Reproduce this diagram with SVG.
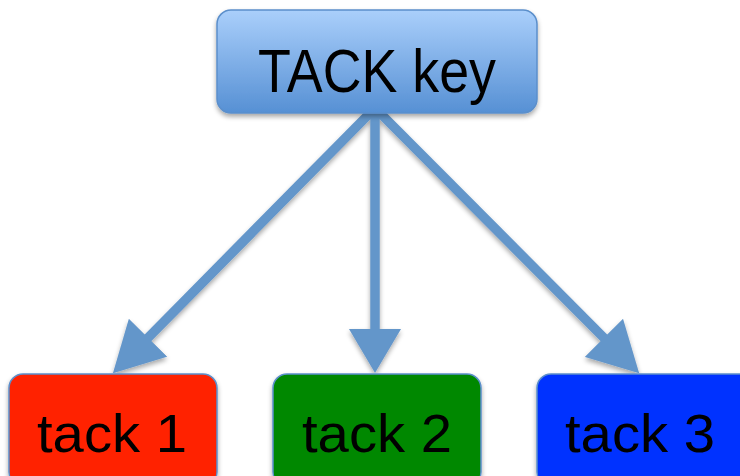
<svg xmlns="http://www.w3.org/2000/svg" width="740" height="476" viewBox="0 0 740 476">
  <defs>
    <linearGradient id="keyFill" x1="0" y1="0" x2="0" y2="1">
      <stop offset="0" stop-color="#aacffb"/>
      <stop offset="1" stop-color="#5690d4"/>
    </linearGradient>
    <filter id="shadow" x="-10%" y="-10%" width="120%" height="130%">
      <feGaussianBlur in="SourceAlpha" stdDeviation="2.5"/>
      <feOffset dx="0" dy="3" result="b"/>
      <feComponentTransfer><feFuncA type="linear" slope="0.35"/></feComponentTransfer>
      <feMerge><feMergeNode/><feMergeNode in="SourceGraphic"/></feMerge>
    </filter>
    <!-- straight-down arrowhead -->
    <marker id="head" viewBox="0 0 44 52" refX="14" refY="26" markerWidth="44" markerHeight="52" markerUnits="userSpaceOnUse" orient="auto">
      <path d="M0,0 L44,26 L0,52 Z" fill="#6396ca"/>
    </marker>
    <!-- slanted arrowhead, a little longer -->
    <marker id="headWide" viewBox="0 0 50 54" refX="20" refY="27" markerWidth="50" markerHeight="54" markerUnits="userSpaceOnUse" orient="auto">
      <path d="M0,0 L50,27 L0,54 Z" fill="#6396ca"/>
    </marker>
    <style>
      .box { stroke: #5b8fcb; stroke-width: 1.5; }
      .label { font-family: "Liberation Sans", Arial, sans-serif; fill: #000; text-anchor: start; }
      .conn { stroke: #6396ca; stroke-width: 9.5; fill: none; }
    </style>
  </defs>

  <g id="connectors" filter="url(#shadow)">
    <line class="conn" x1="375" y1="108" x2="134" y2="352" marker-end="url(#headWide)"/>
    <line class="conn" x1="375" y1="108" x2="375" y2="343" marker-end="url(#head)"/>
    <line class="conn" x1="375" y1="108" x2="618" y2="352" marker-end="url(#headWide)"/>
  </g>

  <g id="tack-key" filter="url(#shadow)">
    <rect class="box" x="217" y="10" width="320" height="103" rx="14" fill="url(#keyFill)"/>
    <text class="label" x="258" y="92" font-size="62" textLength="238" lengthAdjust="spacingAndGlyphs">TACK key</text>
  </g>

  <g id="tack-1" filter="url(#shadow)">
    <rect class="box" x="9" y="374" width="208" height="112" rx="14" fill="#ff2200"/>
    <text class="label" x="37" y="452" font-size="54" textLength="150" lengthAdjust="spacingAndGlyphs">tack 1</text>
  </g>

  <g id="tack-2" filter="url(#shadow)">
    <rect class="box" x="273" y="374" width="208" height="112" rx="14" fill="#008800"/>
    <text class="label" x="302" y="452" font-size="54" textLength="150" lengthAdjust="spacingAndGlyphs">tack 2</text>
  </g>

  <g id="tack-3" filter="url(#shadow)">
    <rect class="box" x="537" y="374" width="220" height="112" rx="14" fill="#0033ff"/>
    <text class="label" x="565" y="452" font-size="54" textLength="150" lengthAdjust="spacingAndGlyphs">tack 3</text>
  </g>
</svg>
